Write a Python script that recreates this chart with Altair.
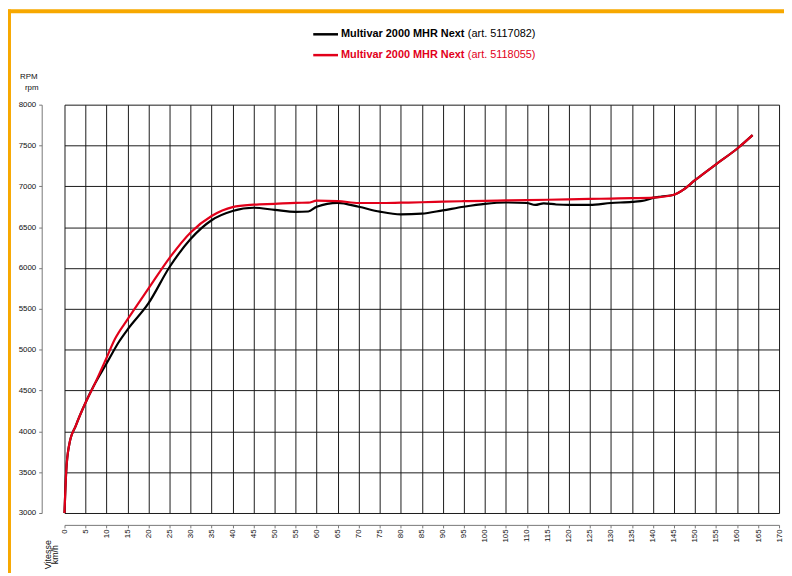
import altair as alt
import pandas as pd

# ---------------- data ----------------
x_ticks = list(range(0, 175, 5))
y_ticks = list(range(3000, 8500, 500))

legend_bold = ["Multivar 2000 MHR Next", "Multivar 2000 MHR Next"]
legend_reg = ["(art. 5117082)", "(art. 5118055)"]
series_colors = ["#000000", "#E2001A"]

speed_black = [0, 0.4, 1.1, 2.7, 5, 7, 10, 13, 15, 20, 25, 30, 35, 40, 45, 50, 55, 58,
               60, 65, 70, 75, 80, 85, 90, 95, 100, 105, 110, 112, 114, 117, 120, 125,
               130, 135, 138, 140, 142, 145, 147, 150, 155, 160, 163.7]
rpm_black = [3000, 3500, 3830, 4070, 4350, 4560, 4830, 5100, 5246, 5569, 6012, 6355, 6585,
             6698, 6738, 6712, 6688, 6692, 6750, 6798, 6750, 6690, 6657, 6665, 6706, 6750,
             6785, 6802, 6796, 6772, 6792, 6778, 6772, 6772, 6796, 6810, 6827, 6858, 6875,
             6897, 6950, 7075, 7270, 7460, 7627]

speed_red = [0, 0.4, 1.1, 2.7, 5, 7, 10, 12, 15, 20, 25, 30, 35, 40, 45, 50, 55, 58, 60,
             65, 70, 75, 80, 85, 90, 95, 100, 105, 110, 115, 120, 125, 130, 135, 140, 145,
             147, 150, 155, 160, 163.7]
rpm_red = [3000, 3500, 3830, 4070, 4350, 4560, 4900, 5130, 5370, 5750, 6125, 6436, 6637,
           6746, 6776, 6786, 6798, 6800, 6825, 6820, 6796, 6796, 6800, 6805, 6812, 6818,
           6822, 6828, 6832, 6836, 6840, 6846, 6850, 6855, 6862, 6897, 6950, 7075, 7270,
           7460, 7627]

df_black = pd.DataFrame({"speed": speed_black, "rpm": rpm_black})
df_red = pd.DataFrame({"speed": speed_red, "rpm": rpm_red})
one = pd.DataFrame({"a": [0]})

W, H = 721, 412
FONT = "Liberation Sans"
ORANGE = "#F7A800"

xs = alt.Scale(domain=[0, 170], nice=False, zero=False)
ys = alt.Scale(domain=[3000, 8000], nice=False, zero=False)

x_axis = alt.Axis(
    values=x_ticks, title=None, labelAngle=270, offset=12, tickSize=3,
    labelPadding=1, labelFontSize=8, labelFont=FONT, labelColor="#111",
    domainColor="#777", tickColor="#777", grid=True, gridColor="#1a1a1a",
    gridWidth=1, gridOpacity=1, labelOverlap=False, labelFlush=False, format="d")
y_axis = alt.Axis(
    values=y_ticks, title=None, offset=23, tickSize=3, labelPadding=3,
    labelFontSize=8, labelFont=FONT, labelColor="#111", domainColor="#777",
    tickColor="#777", grid=True, gridColor="#1a1a1a", gridWidth=1, gridOpacity=1,
    labelOverlap=False, labelFlush=False, format="d")

x_enc = alt.X("speed:Q", scale=xs, axis=x_axis)
y_enc = alt.Y("rpm:Q", scale=ys, axis=y_axis)

line_black = alt.Chart(df_black).mark_line(
    strokeWidth=2.2, interpolate="monotone", color=series_colors[0]
).encode(x=x_enc, y=y_enc)
line_red = alt.Chart(df_red).mark_line(
    strokeWidth=2.2, interpolate="monotone", color=series_colors[1]
).encode(x=x_enc, y=y_enc)

layers = [line_black, line_red]

# legend
leg_y = [-71, -50]
for i in range(2):
    layers.append(alt.Chart(one).mark_rule(color=series_colors[i], strokeWidth=2.5).encode(
        x=alt.value(251), x2=alt.value(276), y=alt.value(leg_y[i])))
    layers.append(alt.Chart(one).mark_text(
        text=legend_bold[i], fontWeight="bold", align="left", baseline="middle",
        font=FONT, fontSize=11, color=series_colors[i]).encode(
        x=alt.value(279), y=alt.value(leg_y[i])))
    layers.append(alt.Chart(one).mark_text(
        text=legend_reg[i], align="left", baseline="middle",
        font=FONT, fontSize=11, color=series_colors[i]).encode(
        x=alt.value(407), y=alt.value(leg_y[i])))

# axis titles
layers.append(alt.Chart(one).mark_text(text="RPM", align="center", baseline="alphabetic",
    font=FONT, fontSize=8, color="#111").encode(x=alt.value(-36), y=alt.value(-26)))
layers.append(alt.Chart(one).mark_text(text="rpm", align="center", baseline="alphabetic",
    font=FONT, fontSize=8, color="#111").encode(x=alt.value(-33), y=alt.value(-15)))
layers.append(alt.Chart(one).mark_text(text="Vitesse", align="center", baseline="middle",
    angle=270, font=FONT, fontSize=9, color="#111").encode(x=alt.value(-17), y=alt.value(454)))
layers.append(alt.Chart(one).mark_text(text="km/h", align="center", baseline="middle",
    angle=270, font=FONT, fontSize=9, color="#111").encode(x=alt.value(-10), y=alt.value(454)))

# orange frame
layers.append(alt.Chart(one).mark_rule(color=ORANGE, strokeWidth=4, strokeCap="butt").encode(
    x=alt.value(-56), y=alt.value(-96), y2=alt.value(480)))
layers.append(alt.Chart(one).mark_rule(color=ORANGE, strokeWidth=4, strokeCap="butt").encode(
    x=alt.value(-58), x2=alt.value(740), y=alt.value(-94.3)))

chart = alt.layer(*layers).properties(
    width=W, height=H,
    autosize=alt.AutoSizeParams(type="none"),
    padding={"left": 57, "top": 95, "right": 5, "bottom": 58},
    background="white",
).configure_view(stroke=None)

chart.save("out.html", embed_options={"renderer": "svg", "actions": False})
